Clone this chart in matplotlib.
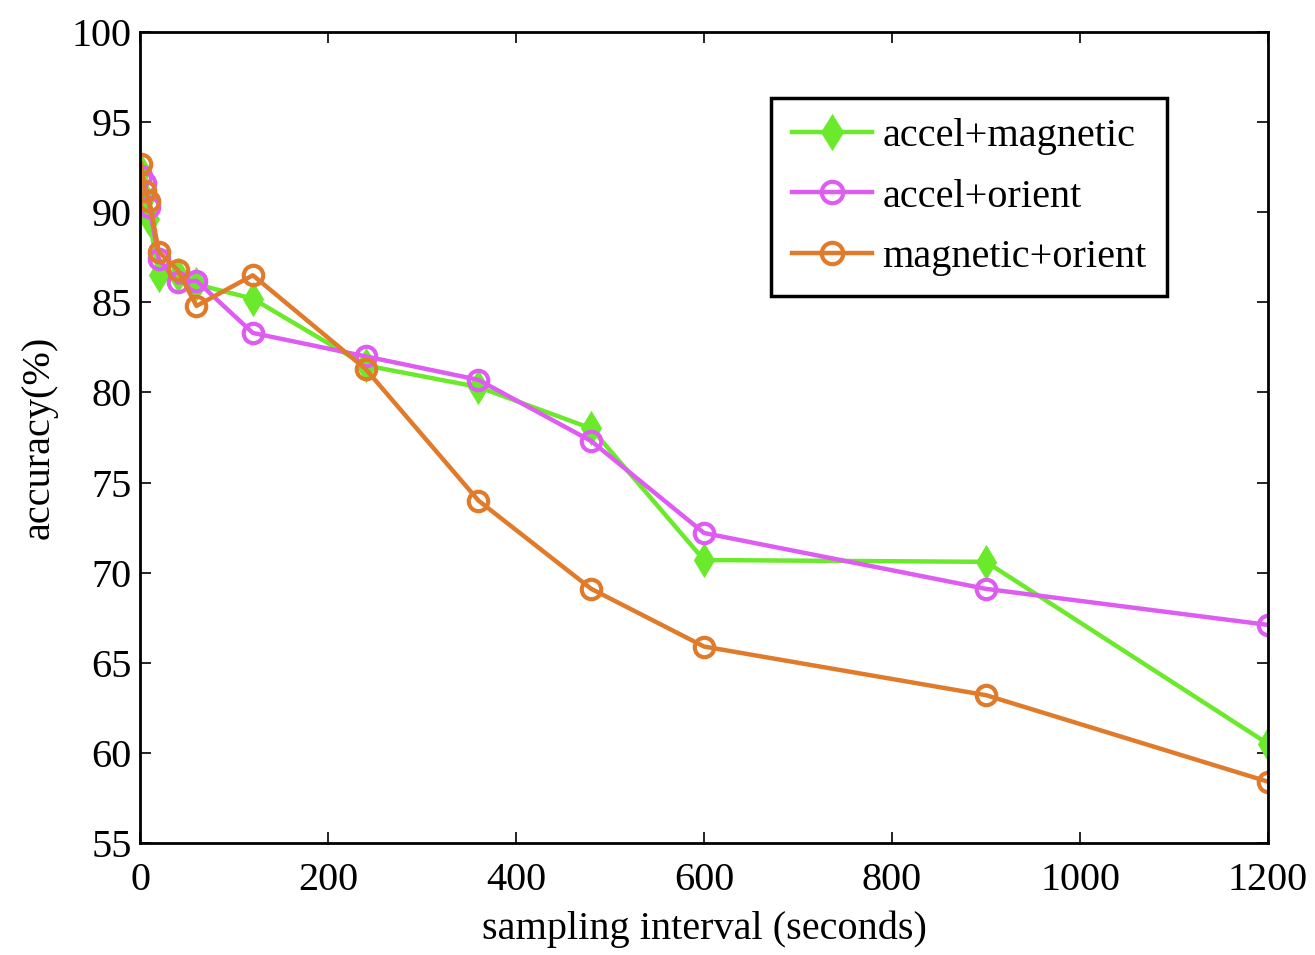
import matplotlib.pyplot as plt
import numpy as np

plt.rcParams['font.family'] = ['Liberation Serif', 'DejaVu Serif']

intervals = [1, 5, 10, 20, 40, 60, 120, 240, 360, 480, 600, 900, 1200]
accel_magnetic = [92.3, 90.8, 89.6, 86.5, 86.5, 86.0, 85.2, 81.5, 80.3, 78.0, 70.7, 70.6, 60.5]
accel_orient = [92.0, 91.6, 90.3, 87.4, 86.1, 86.2, 83.3, 82.0, 80.7, 77.3, 72.2, 69.1, 67.1]
magnetic_orient = [92.7, 91.2, 90.6, 87.8, 86.8, 84.8, 86.5, 81.3, 74.0, 69.1, 65.9, 63.2, 58.4]

labels = ["accel+magnetic", "accel+orient", "magnetic+orient"]
colors = ["#6aea2a", "#df5cf2", "#e07b2c"]

fig = plt.figure(figsize=(13.15, 9.55), dpi=100)
ax = fig.add_axes([0.1065, 0.1173, 0.8578, 0.8492])

ax.plot(intervals, accel_magnetic, color=colors[0], lw=3.2, marker="d", ms=15,
        mfc=colors[0], mec=colors[0], mew=2, label=labels[0])
ax.plot(intervals, accel_orient, color=colors[1], lw=3.2, marker="o", ms=14,
        mfc="none", mec=colors[1], mew=3, label=labels[1])
ax.plot(intervals, magnetic_orient, color=colors[2], lw=3.2, marker="o", ms=14,
        mfc="none", mec=colors[2], mew=3, label=labels[2])

ax.set_xlim(0, 1200)
ax.set_ylim(55, 100)
ax.set_xticks(np.arange(0, 1201, 200))
ax.set_yticks(np.arange(55, 101, 5))
ax.tick_params(direction="in", length=8, width=1.2, labelsize=29,
               top=True, right=True)
ax.tick_params(axis="x", pad=14)
ax.tick_params(axis="y", pad=6)
for s in ax.spines.values():
    s.set_linewidth(2)

ax.set_xlabel("sampling interval (seconds)", fontsize=29, labelpad=8)
ax.set_ylabel("accuracy(%)", fontsize=29, labelpad=10)

leg = ax.legend(loc="upper right", bbox_to_anchor=(0.910, 0.919), fontsize=29,
                fancybox=False, framealpha=1, edgecolor="black",
                handlelength=2.0, borderpad=0.5, labelspacing=0.58,
                handletextpad=0.25, borderaxespad=0, markerscale=1.1)
leg.get_frame().set_linewidth(2.5)

fig.savefig("out.png", dpi=100)
